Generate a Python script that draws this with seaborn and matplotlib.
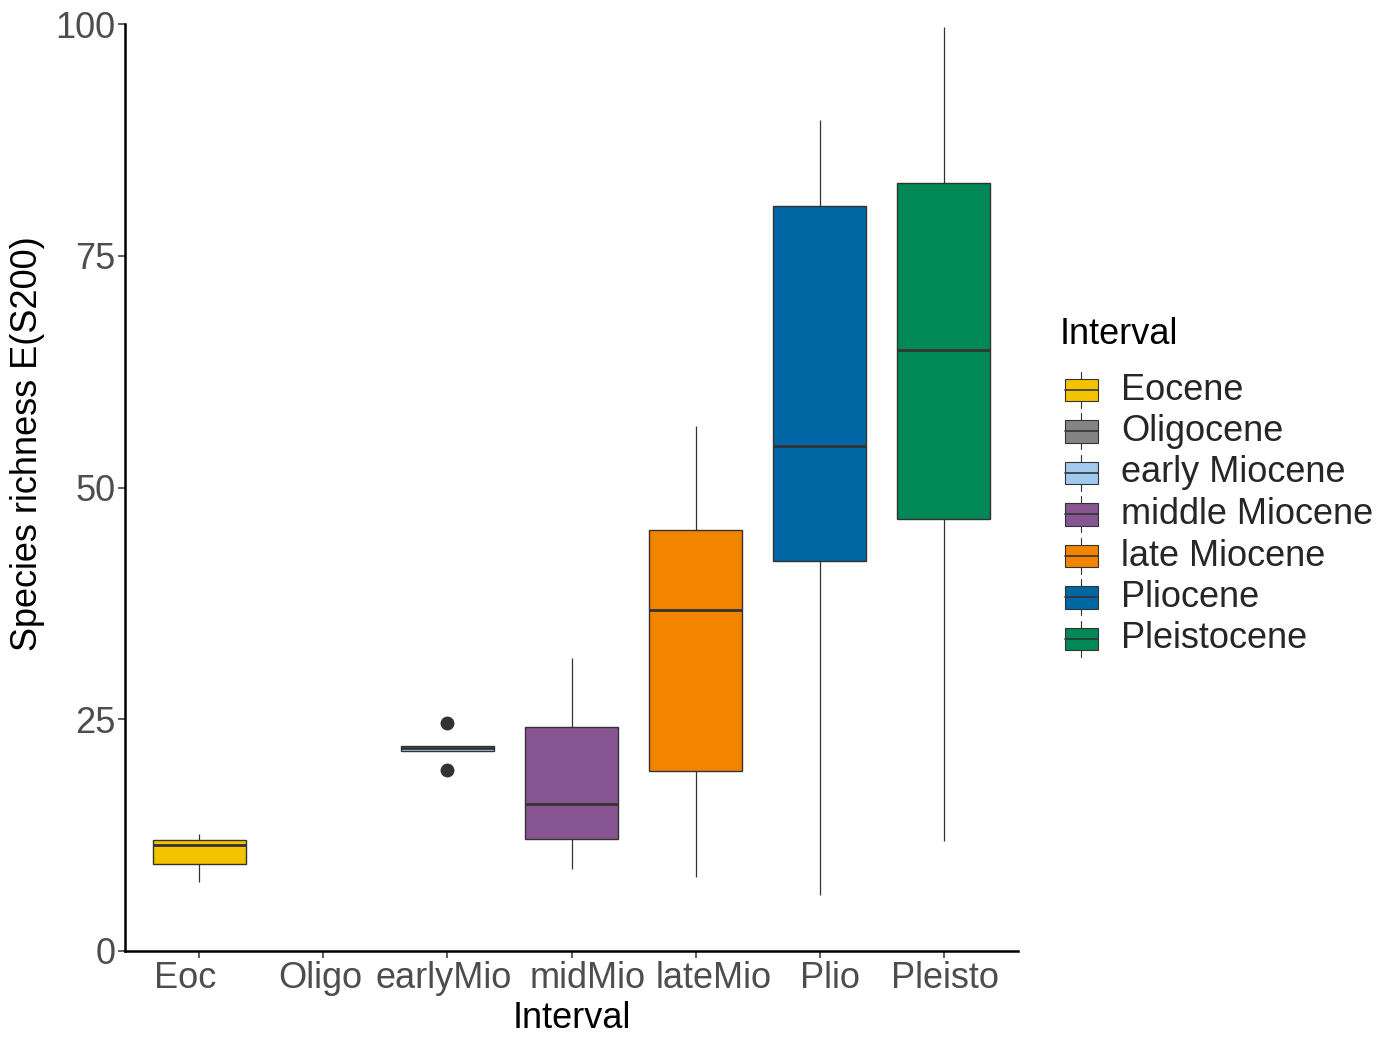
import pandas as pd
import seaborn as sns
import matplotlib.pyplot as plt
import matplotlib.transforms as mtransforms
from matplotlib.patches import Rectangle
from matplotlib.lines import Line2D
from matplotlib.legend_handler import HandlerBase

# interval codes on the x axis and full names for the legend
intervals = ["Eoc", "Oligo", "earlyMio", "midMio", "lateMio", "Plio", "Pleisto"]
names = ["Eocene", "Oligocene", "early Miocene", "middle Miocene",
         "late Miocene", "Pliocene", "Pleistocene"]
colors = ["#F3C300", "#848482", "#A1CAF1", "#875692",
          "#F38400", "#0067A5", "#008856"]

# richness values (min, q1, median, q3, max / outliers)
eoc = [7.4, 9.35, 11.4, 12.0, 12.6]
oligo = []
early_mio = [19.5, 21.6, 21.9, 22.1, 24.55]
mid_mio = [8.8, 12.05, 15.9, 24.2, 31.6]
late_mio = [8.0, 19.4, 36.8, 45.4, 56.6]
plio = [6.0, 42.1, 54.5, 80.4, 89.6]
pleisto = [11.9, 46.6, 64.8, 82.9, 99.7]

groups = [eoc, oligo, early_mio, mid_mio, late_mio, plio, pleisto]
rows = []
for code, vals in zip(intervals, groups):
    for v in vals:
        rows.append({"Interval": code, "richness": v})
df = pd.DataFrame(rows)

sns.set_style("white")
plt.rcParams["font.family"] = ["Liberation Sans", "DejaVu Sans"]

fs = 26

fig = plt.figure(figsize=(13.9, 10.39), dpi=100)
ax = fig.add_axes([125/1390, 1 - 951/1039, (1018-125)/1390, (951-24)/1039])

pal = dict(zip(intervals, colors))
sns.boxplot(
    data=df, x="Interval", y="richness", hue="Interval",
    order=intervals, hue_order=intervals, palette=pal,
    dodge=False, width=0.75, legend=False, saturation=1,
    linecolor="#333333", linewidth=1.0, showcaps=False,
    medianprops=dict(color="#333333", linewidth=2.0),
    whiskerprops=dict(color="#333333", linewidth=0.9),
    flierprops=dict(marker="o", markerfacecolor="#333333",
                    markeredgecolor="#333333", markersize=9),
    ax=ax,
)

ax.set_xlim(-0.6, 6.6)
ax.set_ylim(0, 100)
ax.set_yticks([0, 25, 50, 75, 100])
for s in ["top", "right"]:
    ax.spines[s].set_visible(False)
for s in ["left", "bottom"]:
    ax.spines[s].set_color("black")
    ax.spines[s].set_linewidth(1.8)
ax.tick_params(axis="both", bottom=True, left=True, length=5, width=1.1,
               color="#333333", labelsize=fs, labelcolor="#4D4D4D", pad=2)
ax.set_xlabel("Interval", fontsize=fs, color="black", labelpad=4)
ax.set_ylabel("Species richness E(S200)", fontsize=fs, color="black")
ax.yaxis.set_label_coords(-0.09, (951 - 444) / 927)

# the x tick labels in the original sit a little off their ticks
shifts = [-14, -3, -4, 16, 18, 10, 1]
for lab, dx in zip(ax.get_xticklabels(), shifts):
    lab.set_transform(lab.get_transform() +
                      mtransforms.ScaledTranslation(dx / 100, 0, fig.dpi_scale_trans))


class BoxKey(HandlerBase):
    def create_artists(self, legend, orig, xd, yd, w, h, fs, trans):
        c = orig.get_facecolor()
        cx = xd + w / 2
        vline = Line2D([cx, cx], [yd - 0.3*h, yd + 1.3*h], color="#333333",
                       lw=0.8, transform=trans)
        rect = Rectangle((xd, yd), w, h, facecolor=c,
                         edgecolor="#333333", lw=0.8, transform=trans)
        med = Line2D([xd, xd + w], [yd + 0.5*h, yd + 0.5*h], color="#333333",
                     lw=1.2, transform=trans)
        return [vline, rect, med]


fig.text(1060/1390, 1 - 335/1039, "Interval", fontsize=fs, color="black",
         ha="left", va="center")

handles = [Rectangle((0, 0), 1, 1, facecolor=c) for c in colors]
fig.legend(
    handles, names,
    loc="center left", bbox_to_anchor=(1065/1390, 1 - 514.5/1039),
    frameon=False, fontsize=fs,
    handler_map={Rectangle: BoxKey()},
    handlelength=0.9, handleheight=0.58, handletextpad=0.65,
    labelspacing=0.18, borderpad=0, borderaxespad=0,
)

fig.savefig("out.png", dpi=100)
